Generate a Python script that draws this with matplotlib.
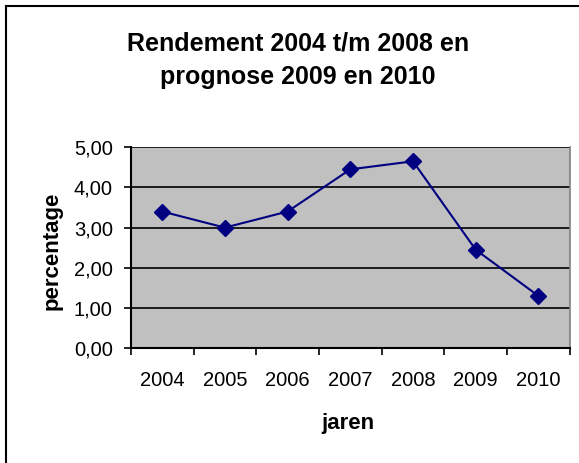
import numpy as np
import matplotlib
matplotlib.use('Agg')
import matplotlib.pyplot as plt
from matplotlib.lines import Line2D

plt.rcParams['font.family'] = ['Liberation Sans', 'DejaVu Sans']

jaren = ['2004', '2005', '2006', '2007', '2008', '2009', '2010']
percentage = [3.4, 3.0, 3.4, 4.45, 4.65, 2.45, 1.3]
y_ticks = [0, 1, 2, 3, 4, 5]
y_labels = ['0,00', '1,00', '2,00', '3,00', '4,00', '5,00']

fig = plt.figure(figsize=(5.79, 4.63), dpi=100)
ax = fig.add_axes([0.226, 0.248, 0.758, 0.434])
ax.set_facecolor('#C0C0C0')

x = np.arange(len(jaren))
ax.plot(x, percentage, color='#000080', lw=1.5, marker='D', markersize=8, zorder=3)

ax.set_xlim(-0.5, len(jaren) - 0.5)
ax.set_ylim(0, 5)
ax.set_yticks(y_ticks)
ax.set_yticklabels(y_labels, fontsize=14.5)
ax.yaxis.grid(True, color='black', lw=1.2)
ax.set_axisbelow(True)

# ticks between categories, labels centred on them
ax.set_xticks(np.arange(-0.5, len(jaren)), minor=False)
ax.set_xticklabels([])
ax.set_xticks(x, minor=True)
ax.set_xticklabels(jaren, minor=True, fontsize=14.5)
ax.tick_params(axis='x', which='minor', length=0, pad=16.5)
ax.tick_params(axis='x', which='major', length=5, width=1.2, direction='out')
ax.tick_params(axis='y', length=5, width=1.2, direction='out', pad=8)

ax.spines['left'].set_linewidth(1.5)
ax.spines['bottom'].set_linewidth(1.5)
ax.spines['top'].set_visible(False)
ax.spines['right'].set_color('#808080')
ax.spines['right'].set_linewidth(1.2)

# axis titles
fig.text(0.601, 0.0734, 'jaren', ha='center', va='baseline', fontsize=16, fontweight='bold')
fig.text(0.0898, 0.458, 'percentage', ha='center', va='center', rotation=90,
         fontsize=16, fontweight='bold')

# chart title, two lines
fig.text(0.515, 0.890, 'Rendement 2004 t/m 2008 en', ha='center', va='baseline',
         fontsize=18, fontweight='bold')
fig.text(0.515, 0.8186, 'prognose 2009 en 2010', ha='center', va='baseline',
         fontsize=18, fontweight='bold')

# chart border (cropped at right and bottom)
fig.add_artist(Line2D([0.011, 0.011], [0, 0.988], transform=fig.transFigure, color='black', lw=1.5))
fig.add_artist(Line2D([0.011, 1], [0.988, 0.988], transform=fig.transFigure, color='black', lw=1.5))

fig.savefig('out.png', dpi=100)
